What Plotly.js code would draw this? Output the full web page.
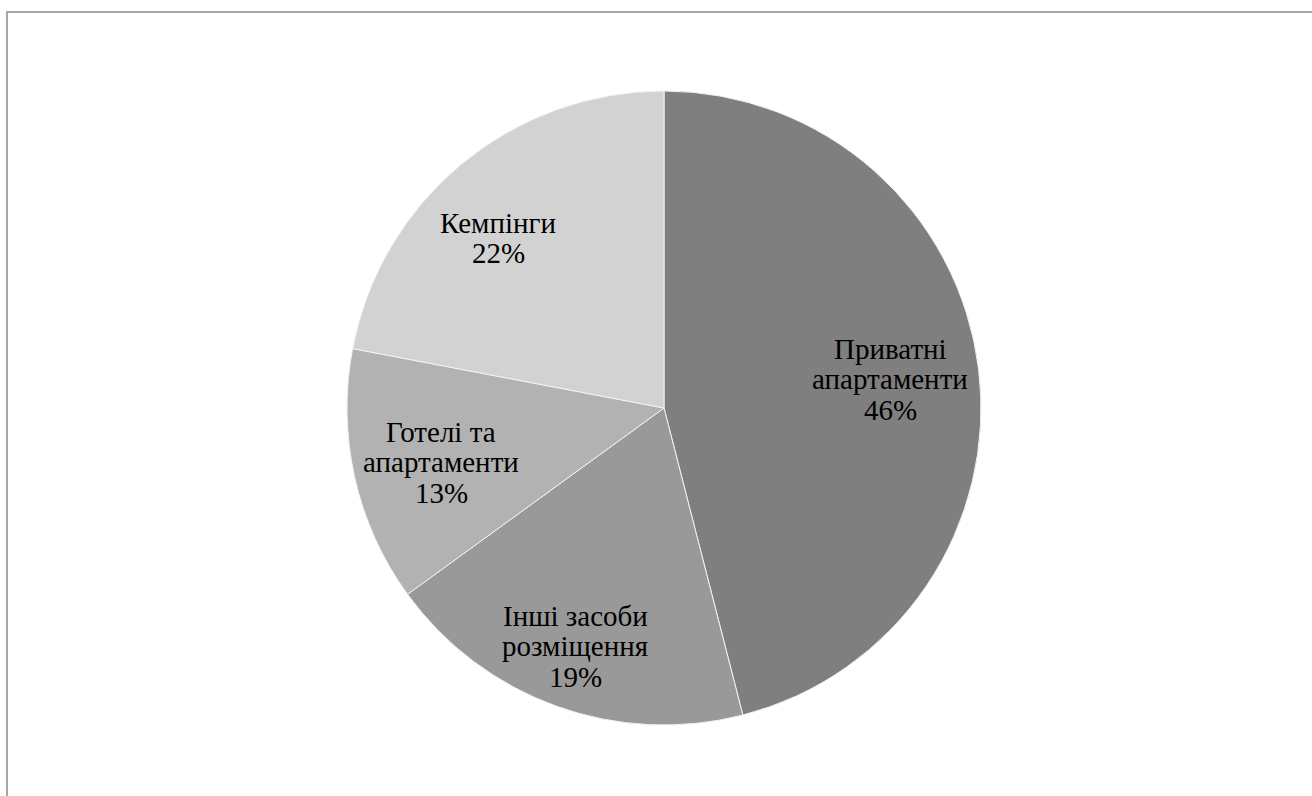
<!DOCTYPE html>
<html>
<head>
<meta charset="utf-8">
<script src="https://cdn.plot.ly/plotly-3.0.1.min.js"></script>
<style>
  html, body { margin: 0; padding: 0; background: #ffffff; }
  #frame { position: absolute; left: 6px; top: 11px; width: 1306px; height: 785px;
           border-top: 2px solid #a6a6a6; border-left: 2px solid #a6a6a6; }
  #chart { position: absolute; left: 0; top: 0; width: 1312px; height: 796px; }
</style>
</head>
<body>
<div id="frame"></div>
<div id="chart"></div>
<script>
// Data
const categories = ["Приватні апартаменти", "Інші засоби розміщення", "Готелі та апартаменти", "Кемпінги"];
const labelLines = [["Приватні", "апартаменти"], ["Інші засоби", "розміщення"], ["Готелі та", "апартаменти"], ["Кемпінги"]];
const shares = [46, 19, 13, 22];
const sliceColors = ["#7f7f7f", "#999999", "#b2b2b2", "#d2d2d2"];

// Layout (pixels)
const W = 1312, H = 796;
const cx = 664, cy = 408, r = 317;
const labelCenters = [[890, 379], [575, 646], [441, 462], [498, 238]];
const lineGap = 30.5;
const FONT = "Liberation Serif, Times New Roman, serif";
const fontSize = 29;

const total = shares.reduce((a, b) => a + b, 0);

const trace = {
  type: "pie",
  labels: categories,
  values: shares,
  sort: false,
  direction: "clockwise",
  rotation: 0,
  marker: { colors: sliceColors, line: { color: "#f2f2f2", width: 1 } },
  textinfo: "none",
  hoverinfo: "none",
  showlegend: false,
  domain: {
    x: [(cx - r) / W, (cx + r) / W],
    y: [(H - cy - r) / H, (H - cy + r) / H]
  }
};

const annotations = [];
labelLines.forEach((lines, i) => {
  const all = lines.concat([Math.round(shares[i] / total * 100) + "%"]);
  const n = all.length;
  all.forEach((t, k) => {
    const py = labelCenters[i][1] + (k - (n - 1) / 2) * lineGap;
    annotations.push({
      xref: "paper", yref: "paper",
      x: labelCenters[i][0] / W, y: 1 - py / H,
      xanchor: "center", yanchor: "middle",
      text: t, showarrow: false,
      font: { family: FONT, size: fontSize, color: "#000000" }
    });
  });
});

const layout = {
  width: W,
  height: H,
  margin: { l: 0, r: 0, t: 0, b: 0 },
  paper_bgcolor: "rgba(0,0,0,0)",
  plot_bgcolor: "rgba(0,0,0,0)",
  showlegend: false,
  font: { family: FONT },
  annotations: annotations
};

Plotly.newPlot("chart", [trace], layout, { displayModeBar: false, staticPlot: true });
</script>
</body>
</html>
